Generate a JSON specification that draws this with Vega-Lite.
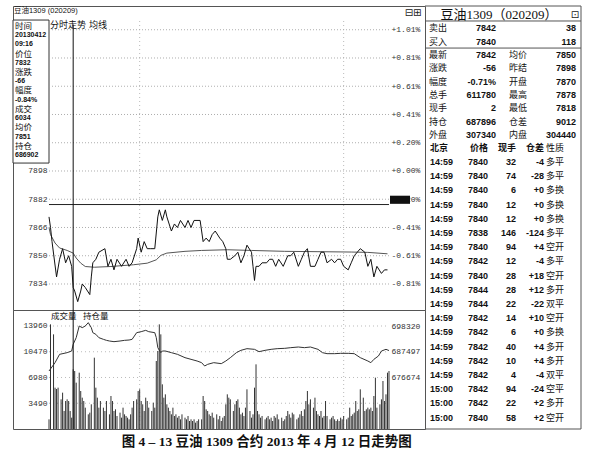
{
"$schema": "https://vega.github.io/schema/vega-lite/v6.json",
"padding": {"left": 12, "top": 5, "right": 0, "bottom": 0},
"background": "white",
"config": {"view": {"stroke": "#555", "strokeWidth": 1}, "text": {"color": "#111"}},
"title": {"text": "图 4 – 13    豆油 1309 合约 2013 年 4 月 12 日走势图", "orient": "bottom", "anchor": "middle", "dx": -30, "offset": 5, "font": "Liberation Serif, Noto Sans CJK SC", "fontSize": 13.5, "fontWeight": "bold", "color": "#111"},
"datasets": {
"plevels": [{"v":7978},{"v":7962},{"v":7946},{"v":7930},{"v":7914},{"v":7898},{"v":7882},{"v":7866},{"v":7850},{"v":7834}],
"vlevels": [{"v":3490},{"v":6980},{"v":10470},{"v":13960}],
"vgrid": [{"m":60},{"m":195}],
"price": [{"m":0,"p":7872},{"m":1,"p":7866},{"m":2,"p":7858},{"m":5,"p":7838},{"m":7,"p":7848},{"m":9,"p":7854},{"m":11,"p":7846},{"m":13,"p":7850},{"m":15,"p":7844},{"m":16,"p":7832},{"m":17,"p":7830},{"m":19,"p":7824},{"m":21,"p":7830},{"m":22,"p":7834},{"m":24,"p":7832},{"m":27,"p":7828},{"m":28,"p":7838},{"m":29,"p":7846},{"m":31,"p":7848},{"m":33,"p":7852},{"m":37,"p":7854},{"m":39,"p":7844},{"m":41,"p":7848},{"m":43,"p":7842},{"m":45,"p":7848},{"m":48,"p":7844},{"m":51,"p":7848},{"m":53,"p":7844},{"m":55,"p":7846},{"m":58,"p":7854},{"m":59,"p":7860},{"m":61,"p":7852},{"m":63,"p":7858},{"m":65,"p":7854},{"m":67,"p":7854},{"m":70,"p":7854},{"m":72,"p":7872},{"m":73,"p":7876},{"m":75,"p":7870},{"m":77,"p":7876},{"m":78,"p":7872},{"m":81,"p":7864},{"m":83,"p":7868},{"m":85,"p":7866},{"m":87,"p":7870},{"m":90,"p":7866},{"m":92,"p":7870},{"m":94,"p":7866},{"m":96,"p":7870},{"m":100,"p":7870},{"m":102,"p":7858},{"m":104,"p":7860},{"m":106,"p":7858},{"m":108,"p":7862},{"m":110,"p":7864},{"m":113,"p":7860},{"m":115,"p":7858},{"m":117,"p":7854},{"m":118,"p":7848},{"m":120,"p":7848},{"m":123,"p":7850},{"m":125,"p":7852},{"m":127,"p":7846},{"m":129,"p":7850},{"m":131,"p":7856},{"m":134,"p":7852},{"m":135,"p":7844},{"m":136,"p":7836},{"m":137,"p":7844},{"m":139,"p":7844},{"m":141,"p":7846},{"m":144,"p":7846},{"m":146,"p":7848},{"m":148,"p":7848},{"m":150,"p":7844},{"m":152,"p":7848},{"m":155,"p":7844},{"m":158,"p":7850},{"m":160,"p":7850},{"m":162,"p":7852},{"m":165,"p":7844},{"m":167,"p":7848},{"m":169,"p":7852},{"m":171,"p":7854},{"m":173,"p":7844},{"m":176,"p":7844},{"m":178,"p":7848},{"m":180,"p":7852},{"m":182,"p":7852},{"m":184,"p":7846},{"m":187,"p":7848},{"m":189,"p":7846},{"m":191,"p":7848},{"m":193,"p":7848},{"m":195,"p":7844},{"m":198,"p":7842},{"m":200,"p":7846},{"m":202,"p":7850},{"m":204,"p":7852},{"m":206,"p":7854},{"m":209,"p":7852},{"m":211,"p":7844},{"m":213,"p":7848},{"m":215,"p":7838},{"m":217,"p":7844},{"m":220,"p":7840},{"m":222,"p":7842},{"m":224,"p":7842}],
"avg": [{"m":0,"a":7866},{"m":1,"a":7862},{"m":4,"a":7857.2},{"m":7,"a":7854.4},{"m":12,"a":7853},{"m":16,"a":7851.5},{"m":18,"a":7848.7},{"m":21,"a":7845.8},{"m":24,"a":7843.9},{"m":30,"a":7843.5},{"m":41,"a":7843.9},{"m":56,"a":7844.9},{"m":65,"a":7845.8},{"m":71,"a":7847.7},{"m":74,"a":7850.2},{"m":78,"a":7851.5},{"m":90,"a":7852.5},{"m":101,"a":7853},{"m":118,"a":7853.4},{"m":134,"a":7853},{"m":156,"a":7852.5},{"m":178,"a":7852.3},{"m":200,"a":7852.1},{"m":211,"a":7851.9},{"m":224,"a":7851.1}],
"vol": [{"m":0,"v":1310},{"m":1,"v":14184},{"m":3,"v":12828},{"m":4,"v":5602},{"m":5,"v":5420},{"m":6,"v":5602},{"m":8,"v":4020},{"m":9,"v":4924},{"m":10,"v":2440},{"m":11,"v":3794},{"m":12,"v":4020},{"m":13,"v":3794},{"m":14,"v":2440},{"m":15,"v":1536},{"m":16,"v":8086},{"m":17,"v":7860},{"m":18,"v":6280},{"m":20,"v":7634},{"m":21,"v":5150},{"m":22,"v":4246},{"m":23,"v":3794},{"m":24,"v":2892},{"m":26,"v":1988},{"m":27,"v":2214},{"m":28,"v":3344},{"m":30,"v":9666},{"m":31,"v":5602},{"m":32,"v":4246},{"m":33,"v":2892},{"m":34,"v":3794},{"m":36,"v":2892},{"m":37,"v":2440},{"m":38,"v":3794},{"m":40,"v":1988},{"m":41,"v":4472},{"m":42,"v":3794},{"m":43,"v":2440},{"m":44,"v":2666},{"m":45,"v":1762},{"m":47,"v":2214},{"m":48,"v":1536},{"m":49,"v":2892},{"m":50,"v":1988},{"m":51,"v":1762},{"m":52,"v":1536},{"m":53,"v":1310},{"m":54,"v":1988},{"m":55,"v":2892},{"m":56,"v":3794},{"m":58,"v":4020},{"m":59,"v":5150},{"m":60,"v":5376},{"m":61,"v":3794},{"m":62,"v":3344},{"m":63,"v":2440},{"m":64,"v":4246},{"m":65,"v":3794},{"m":66,"v":2892},{"m":68,"v":2440},{"m":69,"v":3568},{"m":70,"v":2892},{"m":71,"v":9216},{"m":72,"v":10570},{"m":73,"v":14184},{"m":74,"v":12828},{"m":75,"v":6054},{"m":76,"v":4246},{"m":77,"v":4698},{"m":78,"v":3344},{"m":79,"v":2892},{"m":80,"v":2440},{"m":81,"v":1988},{"m":82,"v":2892},{"m":83,"v":1762},{"m":84,"v":1988},{"m":85,"v":1536},{"m":86,"v":1762},{"m":87,"v":1310},{"m":88,"v":1988},{"m":90,"v":1536},{"m":91,"v":1310},{"m":92,"v":1762},{"m":93,"v":1084},{"m":94,"v":1310},{"m":95,"v":1084},{"m":96,"v":1310},{"m":97,"v":858},{"m":98,"v":1084},{"m":99,"v":1310},{"m":101,"v":1310},{"m":102,"v":4472},{"m":103,"v":3794},{"m":104,"v":2666},{"m":105,"v":2440},{"m":106,"v":1988},{"m":107,"v":1762},{"m":108,"v":2214},{"m":109,"v":1536},{"m":111,"v":1988},{"m":112,"v":1310},{"m":113,"v":1762},{"m":114,"v":1084},{"m":115,"v":1536},{"m":116,"v":1762},{"m":117,"v":3344},{"m":118,"v":4698},{"m":119,"v":4246},{"m":120,"v":4020},{"m":122,"v":2440},{"m":123,"v":3344},{"m":124,"v":3794},{"m":125,"v":4020},{"m":126,"v":2892},{"m":127,"v":1988},{"m":128,"v":2214},{"m":129,"v":1762},{"m":130,"v":2892},{"m":131,"v":5376},{"m":133,"v":2440},{"m":134,"v":1536},{"m":135,"v":1988},{"m":136,"v":5602},{"m":137,"v":8764},{"m":138,"v":2440},{"m":139,"v":1988},{"m":140,"v":1536},{"m":141,"v":1762},{"m":143,"v":1310},{"m":144,"v":1536},{"m":145,"v":1762},{"m":146,"v":1310},{"m":147,"v":1536},{"m":148,"v":1084},{"m":149,"v":1762},{"m":150,"v":1536},{"m":151,"v":1988},{"m":152,"v":1310},{"m":154,"v":1536},{"m":155,"v":1084},{"m":156,"v":1310},{"m":157,"v":1762},{"m":158,"v":2440},{"m":159,"v":1988},{"m":160,"v":1536},{"m":161,"v":2214},{"m":162,"v":1988},{"m":164,"v":1310},{"m":165,"v":1536},{"m":166,"v":1988},{"m":167,"v":2440},{"m":168,"v":1762},{"m":169,"v":2666},{"m":170,"v":3794},{"m":171,"v":5150},{"m":172,"v":3344},{"m":173,"v":4020},{"m":175,"v":2892},{"m":176,"v":4246},{"m":177,"v":2440},{"m":178,"v":1988},{"m":179,"v":1762},{"m":180,"v":2440},{"m":181,"v":1536},{"m":182,"v":1762},{"m":183,"v":3794},{"m":184,"v":1762},{"m":186,"v":1310},{"m":187,"v":1536},{"m":188,"v":1762},{"m":189,"v":1310},{"m":190,"v":1084},{"m":191,"v":1310},{"m":192,"v":1084},{"m":193,"v":1536},{"m":194,"v":1310},{"m":195,"v":1762},{"m":197,"v":1310},{"m":198,"v":1536},{"m":199,"v":2892},{"m":200,"v":1762},{"m":201,"v":1988},{"m":202,"v":2214},{"m":203,"v":3794},{"m":204,"v":2440},{"m":205,"v":2666},{"m":206,"v":5376},{"m":208,"v":4246},{"m":209,"v":2440},{"m":210,"v":2666},{"m":211,"v":2892},{"m":212,"v":2666},{"m":213,"v":2892},{"m":214,"v":2440},{"m":215,"v":4472},{"m":216,"v":6956},{"m":217,"v":2892},{"m":219,"v":3344},{"m":220,"v":4020},{"m":221,"v":6504},{"m":222,"v":3794},{"m":223,"v":4698},{"m":224,"v":7634},{"m":225,"v":7860}],
"oi": [{"m":0,"o":679220},{"m":4,"o":682757},{"m":7,"o":686294},{"m":12,"o":687001},{"m":15,"o":687709},{"m":16,"o":690538},{"m":18,"o":693367},{"m":20,"o":698319},{"m":22,"o":697612},{"m":24,"o":698319},{"m":26,"o":699734},{"m":28,"o":697612},{"m":29,"o":695490},{"m":31,"o":694782},{"m":33,"o":693367},{"m":36,"o":692660},{"m":38,"o":692236},{"m":40,"o":691953},{"m":43,"o":691670},{"m":47,"o":691953},{"m":50,"o":692236},{"m":53,"o":692377},{"m":55,"o":692660},{"m":58,"o":695490},{"m":61,"o":695914},{"m":64,"o":696480},{"m":66,"o":695914},{"m":70,"o":695490},{"m":71,"o":693367},{"m":72,"o":689123},{"m":74,"o":687001},{"m":75,"o":687709},{"m":77,"o":687709},{"m":81,"o":687001},{"m":85,"o":686294},{"m":90,"o":684879},{"m":94,"o":684172},{"m":98,"o":683465},{"m":101,"o":682757},{"m":103,"o":681343},{"m":105,"o":682050},{"m":109,"o":682757},{"m":114,"o":682333},{"m":117,"o":683465},{"m":120,"o":684879},{"m":124,"o":687001},{"m":127,"o":687992},{"m":131,"o":688699},{"m":136,"o":688416},{"m":139,"o":687426},{"m":143,"o":687992},{"m":147,"o":688416},{"m":151,"o":688699},{"m":156,"o":688840},{"m":160,"o":689123},{"m":165,"o":689406},{"m":169,"o":689123},{"m":173,"o":689406},{"m":178,"o":688416},{"m":181,"o":687001},{"m":184,"o":686577},{"m":189,"o":686577},{"m":193,"o":686718},{"m":198,"o":686718},{"m":202,"o":686577},{"m":206,"o":684879},{"m":211,"o":683465},{"m":213,"o":682757},{"m":215,"o":684172},{"m":218,"o":685587},{"m":220,"o":687709},{"m":223,"o":688416},{"m":225,"o":687896}],
"info": [{"k":0,"t":"时间","kind":"l"},{"k":1,"t":"20130412","kind":"v"},{"k":2,"t":"09:16","kind":"v"},{"k":3,"t":"价位","kind":"l"},{"k":4,"t":"7832","kind":"v"},{"k":5,"t":"涨跌","kind":"l"},{"k":6,"t":"-66","kind":"v"},{"k":7,"t":"幅度","kind":"l"},{"k":8,"t":"-0.84%","kind":"v"},{"k":9,"t":"成交","kind":"l"},{"k":10,"t":"6034","kind":"v"},{"k":11,"t":"均价","kind":"l"},{"k":12,"t":"7851","kind":"v"},{"k":13,"t":"持仓","kind":"l"},{"k":14,"t":"686902","kind":"v"}],
"quote": [{"i":1,"a":"卖出","b":"7842","c":"","d":"38"},{"i":2,"a":"买入","b":"7840","c":"","d":"118"},{"i":3,"a":"最新","b":"7842","c":"均价","d":"7850"},{"i":4,"a":"涨跌","b":"-56","c":"昨结","d":"7898"},{"i":5,"a":"幅度","b":"-0.71%","c":"开盘","d":"7870"},{"i":6,"a":"总手","b":"611780","c":"最高","d":"7878"},{"i":7,"a":"现手","b":"2","c":"最低","d":"7818"},{"i":8,"a":"持仓","b":"687896","c":"仓差","d":"9012"},{"i":9,"a":"外盘","b":"307340","c":"内盘","d":"304440"}],
"ticks": [{"j":0,"t":"北京","p":"价格","v":"现手","o":"仓差","n":"性质"},{"j":1,"t":"14:59","p":"7840","v":"32","o":"-4","n":"多平"},{"j":2,"t":"14:59","p":"7840","v":"74","o":"-28","n":"多平"},{"j":3,"t":"14:59","p":"7840","v":"6","o":"+0","n":"多换"},{"j":4,"t":"14:59","p":"7840","v":"12","o":"+0","n":"多换"},{"j":5,"t":"14:59","p":"7840","v":"12","o":"+0","n":"多换"},{"j":6,"t":"14:59","p":"7838","v":"146","o":"-124","n":"多平"},{"j":7,"t":"14:59","p":"7840","v":"94","o":"+4","n":"空开"},{"j":8,"t":"14:59","p":"7842","v":"12","o":"-4","n":"多平"},{"j":9,"t":"14:59","p":"7840","v":"28","o":"+18","n":"空开"},{"j":10,"t":"14:59","p":"7844","v":"28","o":"+12","n":"多开"},{"j":11,"t":"14:59","p":"7844","v":"22","o":"-22","n":"双平"},{"j":12,"t":"14:59","p":"7842","v":"14","o":"+10","n":"空开"},{"j":13,"t":"14:59","p":"7842","v":"6","o":"+0","n":"多换"},{"j":14,"t":"14:59","p":"7842","v":"40","o":"+4","n":"多开"},{"j":15,"t":"14:59","p":"7842","v":"10","o":"+4","n":"多开"},{"j":16,"t":"14:59","p":"7842","v":"4","o":"-4","n":"双平"},{"j":17,"t":"15:00","p":"7842","v":"94","o":"-24","n":"空平"},{"j":18,"t":"15:00","p":"7842","v":"22","o":"+2","n":"多开"},{"j":19,"t":"15:00","p":"7840","v":"58","o":"+2","n":"空开"}]
},
"columns": 2,
"spacing": 0,
"bounds": "flush",
"concat": [
{
"width": 412, "height": 304,
"resolve": {"scale": {"y": "independent"}},
"layer": [
{"data": {"values": [{}]}, "mark": {"type": "rect", "fill": "white", "stroke": "#333", "strokeWidth": 1},
 "encoding": {"x": {"datum": -23.824, "type": "quantitative", "scale": {"domain": [-23.824, 248.824], "nice": false, "zero": false}, "axis": null}, "x2": {"datum": 0},
 "y": {"datum": 7983.5, "type": "quantitative", "scale": {"domain": [7819.27, 7991.45], "nice": false, "zero": false}, "axis": null}, "y2": {"datum": 7902.5}}},
{"data": {"name": "plevels"}, "mark": {"type": "rule", "stroke": "#999", "strokeWidth": 0.8, "strokeDash": [1, 2]},
 "encoding": {"x": {"datum": 0, "type": "quantitative", "scale": {"domain": [-23.824, 248.824], "nice": false, "zero": false}, "axis": null}, "x2": {"datum": 225},
 "y": {"field": "v", "type": "quantitative", "scale": {"domain": [7819.27, 7991.45], "nice": false, "zero": false},
  "axis": {"orient": "left", "offset": -36, "values": [7898, 7882, 7866, 7850, 7834], "format": "d", "domain": false, "ticks": false, "grid": false, "title": null, "labelFont": "Liberation Mono", "labelFontSize": 8, "labelColor": "#333", "labelPadding": 2}}}},
{"data": {"name": "plevels"}, "mark": {"type": "rule", "opacity": 0},
 "encoding": {"x": {"datum": 0, "type": "quantitative", "scale": {"domain": [-23.824, 248.824], "nice": false, "zero": false}, "axis": null}, "x2": {"datum": 225},
 "y": {"field": "v", "type": "quantitative", "scale": {"domain": [7819.27, 7991.45], "nice": false, "zero": false},
  "axis": {"orient": "right", "offset": -36, "values": [7978, 7962, 7946, 7930, 7914, 7898, 7882, 7866, 7850, 7834], "labelExpr": "(datum.value >= 7898 ? '+' : '-') + format(abs(datum.value - 7898) / 7898 * 100, '.2f') + '%'", "domain": false, "ticks": false, "grid": false, "title": null, "labelFont": "Liberation Mono", "labelFontSize": 8, "labelColor": "#333", "labelPadding": 2}}}},
{"data": {"name": "vgrid"}, "mark": {"type": "rule", "stroke": "#aaa", "strokeWidth": 0.8, "strokeDash": [1, 3]},
 "encoding": {"x": {"field": "m", "type": "quantitative", "scale": {"domain": [-23.824, 248.824], "nice": false, "zero": false}, "axis": null},
 "y": {"datum": 7819.27, "type": "quantitative", "scale": {"domain": [7819.27, 7991.45], "nice": false, "zero": false}, "axis": null}, "y2": {"datum": 7984}}},
{"data": {"name": "avg"}, "mark": {"type": "line", "stroke": "#555", "strokeWidth": 1},
 "encoding": {"x": {"field": "m", "type": "quantitative", "scale": {"domain": [-23.824, 248.824], "nice": false, "zero": false}, "axis": null},
 "y": {"field": "a", "type": "quantitative", "scale": {"domain": [7819.27, 7991.45], "nice": false, "zero": false}, "axis": null}}},
{"data": {"name": "price"}, "mark": {"type": "line", "stroke": "#111", "strokeWidth": 1},
 "encoding": {"x": {"field": "m", "type": "quantitative", "scale": {"domain": [-23.824, 248.824], "nice": false, "zero": false}, "axis": null},
 "y": {"field": "p", "type": "quantitative", "scale": {"domain": [7819.27, 7991.45], "nice": false, "zero": false}, "axis": null}}},
{"data": {"values": [{}]}, "mark": {"type": "rule", "stroke": "#222", "strokeWidth": 1},
 "encoding": {"x": {"datum": 0, "type": "quantitative", "scale": {"domain": [-23.824, 248.824], "nice": false, "zero": false}, "axis": null}, "x2": {"datum": 225},
 "y": {"datum": 7879, "type": "quantitative", "scale": {"domain": [7819.27, 7991.45], "nice": false, "zero": false}, "axis": null}}},
{"data": {"values": [{}]}, "mark": {"type": "rule", "stroke": "#111", "strokeWidth": 1},
 "encoding": {"x": {"datum": 16, "type": "quantitative", "scale": {"domain": [-23.824, 248.824], "nice": false, "zero": false}, "axis": null},
 "y": {"datum": 7819.27, "type": "quantitative", "scale": {"domain": [7819.27, 7991.45], "nice": false, "zero": false}, "axis": null}, "y2": {"datum": 7981}}},
{"data": {"values": [{}]}, "mark": {"type": "rect", "fill": "#111"},
 "encoding": {"x": {"datum": 225.66, "type": "quantitative", "scale": {"domain": [-23.824, 248.824], "nice": false, "zero": false}, "axis": null}, "x2": {"datum": 238.9},
 "y": {"datum": 7879.4, "type": "quantitative", "scale": {"domain": [7819.27, 7991.45], "nice": false, "zero": false}, "axis": null}, "y2": {"datum": 7884}}},
{"data": {"values": [{}]}, "mark": {"type": "text", "text": "分时走势", "align": "left", "baseline": "middle", "font": "Noto Sans CJK SC", "fontSize": 9, "color": "#111"},
 "encoding": {"x": {"datum": 0.66, "type": "quantitative", "scale": {"domain": [-23.824, 248.824], "nice": false, "zero": false}, "axis": null},
 "y": {"datum": 7980.7, "type": "quantitative", "scale": {"domain": [7819.27, 7991.45], "nice": false, "zero": false}, "axis": null}}},
{"data": {"values": [{}]}, "mark": {"type": "text", "text": "均线", "align": "left", "baseline": "middle", "font": "Noto Sans CJK SC", "fontSize": 9, "color": "#111"},
 "encoding": {"x": {"datum": 26.5, "type": "quantitative", "scale": {"domain": [-23.824, 248.824], "nice": false, "zero": false}, "axis": null},
 "y": {"datum": 7980.7, "type": "quantitative", "scale": {"domain": [7819.27, 7991.45], "nice": false, "zero": false}, "axis": null}}},
{"data": {"values": [{}]}, "mark": {"type": "text", "text": "豆油1309 (020209)", "align": "left", "baseline": "middle", "font": "Liberation Sans, Noto Sans CJK SC", "fontSize": 7.5, "color": "#111"},
 "encoding": {"x": {"datum": -23.2, "type": "quantitative", "scale": {"domain": [-23.824, 248.824], "nice": false, "zero": false}, "axis": null},
 "y": {"datum": 7988.6, "type": "quantitative", "scale": {"domain": [7819.27, 7991.45], "nice": false, "zero": false}, "axis": null}}},
{"data": {"values": [{}]}, "mark": {"type": "text", "text": "⊟⊞", "align": "center", "baseline": "middle", "font": "DejaVu Sans", "fontSize": 10, "color": "#222"},
 "encoding": {"x": {"datum": 240.9, "type": "quantitative", "scale": {"domain": [-23.824, 248.824], "nice": false, "zero": false}, "axis": null},
 "y": {"datum": 7987.5, "type": "quantitative", "scale": {"domain": [7819.27, 7991.45], "nice": false, "zero": false}, "axis": null}}},
{"data": {"name": "info"}, "transform": [{"filter": "datum.kind == 'l'"}], "mark": {"type": "text", "align": "left", "baseline": "middle", "font": "Noto Sans CJK SC", "fontSize": 8.5, "color": "#111"},
 "encoding": {"x": {"datum": -22.5, "type": "quantitative", "scale": {"domain": [-23.824, 248.824], "nice": false, "zero": false}, "axis": null},
 "y": {"field": "k", "type": "quantitative", "scale": {"domain": [-2.1706, 30.823], "nice": false, "zero": false, "reverse": true}, "axis": null}, "text": {"field": "t"}}},
{"data": {"name": "info"}, "transform": [{"filter": "datum.kind == 'v'"}], "mark": {"type": "text", "align": "left", "baseline": "middle", "font": "Liberation Sans", "fontSize": 7, "fontWeight": "bold", "color": "#111"},
 "encoding": {"x": {"datum": -22.5, "type": "quantitative", "scale": {"domain": [-23.824, 248.824], "nice": false, "zero": false}, "axis": null},
 "y": {"field": "k", "type": "quantitative", "scale": {"domain": [-2.1706, 30.823], "nice": false, "zero": false, "reverse": true}, "axis": null}, "text": {"field": "t"}}}
]
},
{
"width": 156, "height": 304,
"view": {"stroke": null},
"resolve": {"scale": {"y": "independent"}},
"layer": [
{"data": {"values": [{}]}, "mark": {"type": "rule", "stroke": "#555", "strokeWidth": 1},
 "encoding": {"x": {"datum": 0, "type": "quantitative", "scale": {"domain": [0, 156], "nice": false, "zero": false}, "axis": null}, "x2": {"datum": 156},
 "y": {"datum": -0.675, "type": "quantitative", "scale": {"domain": [-0.675, 22.13], "nice": false, "zero": false, "reverse": true}, "axis": null}}},
{"data": {"values": [{}]}, "mark": {"type": "rule", "stroke": "#555", "strokeWidth": 1},
 "encoding": {"x": {"datum": 156, "type": "quantitative", "scale": {"domain": [0, 156], "nice": false, "zero": false}, "axis": null},
 "y": {"datum": -0.675, "type": "quantitative", "scale": {"domain": [-0.675, 22.13], "nice": false, "zero": false, "reverse": true}, "axis": null}, "y2": {"datum": 22.13}}},
{"data": {"values": [{}]}, "mark": {"type": "rule", "stroke": "#555", "strokeWidth": 1},
 "encoding": {"x": {"datum": 0, "type": "quantitative", "scale": {"domain": [0, 156], "nice": false, "zero": false}, "axis": null}, "x2": {"datum": 156},
 "y": {"datum": 0.45, "type": "quantitative", "scale": {"domain": [-0.675, 22.13], "nice": false, "zero": false, "reverse": true}, "axis": null}}},
{"data": {"values": [{}]}, "mark": {"type": "rule", "stroke": "#555", "strokeWidth": 1},
 "encoding": {"x": {"datum": 0, "type": "quantitative", "scale": {"domain": [0, 156], "nice": false, "zero": false}, "axis": null}, "x2": {"datum": 156},
 "y": {"datum": 2.48, "type": "quantitative", "scale": {"domain": [-0.675, 22.13], "nice": false, "zero": false, "reverse": true}, "axis": null}}},
{"data": {"values": [{}]}, "mark": {"type": "text", "text": "豆油1309（020209）", "align": "center", "baseline": "middle", "font": "Liberation Serif, Noto Sans CJK SC", "fontSize": 13, "color": "#111"},
 "encoding": {"x": {"datum": 74, "type": "quantitative", "scale": {"domain": [0, 156], "nice": false, "zero": false}, "axis": null},
 "y": {"datum": 0, "type": "quantitative", "scale": {"domain": [-0.675, 22.13], "nice": false, "zero": false, "reverse": true}, "axis": null}}},
{"data": {"values": [{}]}, "mark": {"type": "text", "text": "⊡", "align": "center", "baseline": "middle", "font": "DejaVu Sans", "fontSize": 10, "color": "#222"},
 "encoding": {"x": {"datum": 150, "type": "quantitative", "scale": {"domain": [0, 156], "nice": false, "zero": false}, "axis": null},
 "y": {"datum": 0, "type": "quantitative", "scale": {"domain": [-0.675, 22.13], "nice": false, "zero": false, "reverse": true}, "axis": null}}},
{"data": {"name": "quote"}, "mark": {"type": "text", "align": "left", "baseline": "middle", "font": "Noto Sans CJK SC", "fontSize": 9, "color": "#111"},
 "encoding": {"x": {"datum": 4, "type": "quantitative", "scale": {"domain": [0, 156], "nice": false, "zero": false}, "axis": null},
 "y": {"field": "i", "type": "quantitative", "scale": {"domain": [-0.675, 22.13], "nice": false, "zero": false, "reverse": true}, "axis": null}, "text": {"field": "a"}}},
{"data": {"name": "quote"}, "mark": {"type": "text", "align": "right", "baseline": "middle", "font": "Liberation Sans", "fontSize": 9, "fontWeight": "bold", "color": "#111"},
 "encoding": {"x": {"datum": 71, "type": "quantitative", "scale": {"domain": [0, 156], "nice": false, "zero": false}, "axis": null},
 "y": {"field": "i", "type": "quantitative", "scale": {"domain": [-0.675, 22.13], "nice": false, "zero": false, "reverse": true}, "axis": null}, "text": {"field": "b"}}},
{"data": {"name": "quote"}, "mark": {"type": "text", "align": "left", "baseline": "middle", "font": "Noto Sans CJK SC", "fontSize": 9, "color": "#111"},
 "encoding": {"x": {"datum": 84, "type": "quantitative", "scale": {"domain": [0, 156], "nice": false, "zero": false}, "axis": null},
 "y": {"field": "i", "type": "quantitative", "scale": {"domain": [-0.675, 22.13], "nice": false, "zero": false, "reverse": true}, "axis": null}, "text": {"field": "c"}}},
{"data": {"name": "quote"}, "mark": {"type": "text", "align": "right", "baseline": "middle", "font": "Liberation Sans", "fontSize": 9, "fontWeight": "bold", "color": "#111"},
 "encoding": {"x": {"datum": 151, "type": "quantitative", "scale": {"domain": [0, 156], "nice": false, "zero": false}, "axis": null},
 "y": {"field": "i", "type": "quantitative", "scale": {"domain": [-0.675, 22.13], "nice": false, "zero": false, "reverse": true}, "axis": null}, "text": {"field": "d"}}},
{"data": {"name": "ticks"}, "transform": [{"filter": "datum.j <= 11"}], "mark": {"type": "text", "align": "left", "baseline": "middle", "font": "Liberation Sans, Noto Sans CJK SC", "fontSize": 9, "fontWeight": "bold", "color": "#111"},
 "encoding": {"x": {"datum": 5, "type": "quantitative", "scale": {"domain": [0, 156], "nice": false, "zero": false}, "axis": null},
 "y": {"field": "j", "type": "quantitative", "scale": {"domain": [-9.986, 11.423], "nice": false, "zero": false, "reverse": true}, "axis": null}, "text": {"field": "t"}}},
{"data": {"name": "ticks"}, "transform": [{"filter": "datum.j <= 11"}], "mark": {"type": "text", "align": "right", "baseline": "middle", "font": "Liberation Sans, Noto Sans CJK SC", "fontSize": 9, "fontWeight": "bold", "color": "#111"},
 "encoding": {"x": {"datum": 63, "type": "quantitative", "scale": {"domain": [0, 156], "nice": false, "zero": false}, "axis": null},
 "y": {"field": "j", "type": "quantitative", "scale": {"domain": [-9.986, 11.423], "nice": false, "zero": false, "reverse": true}, "axis": null}, "text": {"field": "p"}}},
{"data": {"name": "ticks"}, "transform": [{"filter": "datum.j <= 11"}], "mark": {"type": "text", "align": "right", "baseline": "middle", "font": "Liberation Sans, Noto Sans CJK SC", "fontSize": 9, "fontWeight": "bold", "color": "#111"},
 "encoding": {"x": {"datum": 91, "type": "quantitative", "scale": {"domain": [0, 156], "nice": false, "zero": false}, "axis": null},
 "y": {"field": "j", "type": "quantitative", "scale": {"domain": [-9.986, 11.423], "nice": false, "zero": false, "reverse": true}, "axis": null}, "text": {"field": "v"}}},
{"data": {"name": "ticks"}, "transform": [{"filter": "datum.j <= 11"}], "mark": {"type": "text", "align": "right", "baseline": "middle", "font": "Liberation Sans, Noto Sans CJK SC", "fontSize": 9, "fontWeight": "bold", "color": "#111"},
 "encoding": {"x": {"datum": 119, "type": "quantitative", "scale": {"domain": [0, 156], "nice": false, "zero": false}, "axis": null},
 "y": {"field": "j", "type": "quantitative", "scale": {"domain": [-9.986, 11.423], "nice": false, "zero": false, "reverse": true}, "axis": null}, "text": {"field": "o"}}},
{"data": {"name": "ticks"}, "transform": [{"filter": "datum.j <= 11"}], "mark": {"type": "text", "align": "left", "baseline": "middle", "font": "Noto Sans CJK SC", "fontSize": 9, "color": "#111"},
 "encoding": {"x": {"datum": 121, "type": "quantitative", "scale": {"domain": [0, 156], "nice": false, "zero": false}, "axis": null},
 "y": {"field": "j", "type": "quantitative", "scale": {"domain": [-9.986, 11.423], "nice": false, "zero": false, "reverse": true}, "axis": null}, "text": {"field": "n"}}}
]
},
{
"width": 412, "height": 119,
"resolve": {"scale": {"y": "independent"}},
"layer": [
{"data": {"name": "vlevels"}, "mark": {"type": "rule", "stroke": "#aaa", "strokeWidth": 0.8, "strokeDash": [1, 3]},
 "encoding": {"x": {"datum": 0, "type": "quantitative", "scale": {"domain": [-23.824, 248.824], "nice": false, "zero": false}, "axis": null}, "x2": {"datum": 225},
 "y": {"field": "v", "type": "quantitative", "scale": {"domain": [0, 16128], "nice": false, "zero": false},
  "axis": {"orient": "left", "offset": -36, "values": [3490, 6980, 10470, 13960], "format": "d", "domain": false, "ticks": false, "grid": false, "title": null, "labelFont": "Liberation Mono", "labelFontSize": 8, "labelColor": "#333", "labelPadding": 2}}}},
{"data": {"name": "vgrid"}, "mark": {"type": "rule", "stroke": "#aaa", "strokeWidth": 0.8, "strokeDash": [1, 3]},
 "encoding": {"x": {"field": "m", "type": "quantitative", "scale": {"domain": [-23.824, 248.824], "nice": false, "zero": false}, "axis": null},
 "y": {"datum": 0, "type": "quantitative", "scale": {"domain": [0, 16128], "nice": false, "zero": false}, "axis": null}, "y2": {"datum": 16128}}},
{"data": {"name": "vol"}, "mark": {"type": "rule", "stroke": "#333", "strokeWidth": 1},
 "encoding": {"x": {"field": "m", "type": "quantitative", "scale": {"domain": [-23.824, 248.824], "nice": false, "zero": false}, "axis": null},
 "y": {"field": "v", "type": "quantitative", "scale": {"domain": [0, 16128], "nice": false, "zero": false}, "axis": null}, "y2": {"datum": 0}}},
{"data": {"name": "oi"}, "mark": {"type": "line", "stroke": "#333", "strokeWidth": 1},
 "encoding": {"x": {"field": "m", "type": "quantitative", "scale": {"domain": [-23.824, 248.824], "nice": false, "zero": false}, "axis": null},
 "y": {"field": "o", "type": "quantitative", "scale": {"domain": [654604, 705111], "nice": false, "zero": false},
  "axis": {"orient": "right", "offset": -36, "values": [676674, 687497, 698320], "format": "d", "domain": false, "ticks": false, "grid": false, "title": null, "labelFont": "Liberation Mono", "labelFontSize": 8, "labelColor": "#333", "labelPadding": 2}}}},
{"data": {"values": [{}]}, "mark": {"type": "rule", "stroke": "#111", "strokeWidth": 1},
 "encoding": {"x": {"datum": 16, "type": "quantitative", "scale": {"domain": [-23.824, 248.824], "nice": false, "zero": false}, "axis": null},
 "y": {"datum": 0, "type": "quantitative", "scale": {"domain": [0, 16128], "nice": false, "zero": false}, "axis": null}, "y2": {"datum": 16128}}},
{"data": {"values": [{}]}, "mark": {"type": "text", "text": "成交量", "align": "left", "baseline": "middle", "font": "Noto Sans CJK SC", "fontSize": 8.5, "color": "#111"},
 "encoding": {"x": {"datum": 1.3, "type": "quantitative", "scale": {"domain": [-23.824, 248.824], "nice": false, "zero": false}, "axis": null},
 "y": {"datum": 15316, "type": "quantitative", "scale": {"domain": [0, 16128], "nice": false, "zero": false}, "axis": null}}},
{"data": {"values": [{}]}, "mark": {"type": "text", "text": "持仓量", "align": "left", "baseline": "middle", "font": "Noto Sans CJK SC", "fontSize": 8.5, "color": "#111"},
 "encoding": {"x": {"datum": 22.5, "type": "quantitative", "scale": {"domain": [-23.824, 248.824], "nice": false, "zero": false}, "axis": null},
 "y": {"datum": 15316, "type": "quantitative", "scale": {"domain": [0, 16128], "nice": false, "zero": false}, "axis": null}}}
]
},
{
"width": 156, "height": 119,
"view": {"stroke": null},
"resolve": {"scale": {"y": "independent"}},
"layer": [
{"data": {"values": [{}]}, "mark": {"type": "rule", "stroke": "#555", "strokeWidth": 1},
 "encoding": {"x": {"datum": 156, "type": "quantitative", "scale": {"domain": [0, 156], "nice": false, "zero": false}, "axis": null},
 "y": {"datum": 11.423, "type": "quantitative", "scale": {"domain": [11.423, 19.803], "nice": false, "zero": false, "reverse": true}, "axis": null}, "y2": {"datum": 19.803}}},
{"data": {"values": [{}]}, "mark": {"type": "rule", "stroke": "#555", "strokeWidth": 1},
 "encoding": {"x": {"datum": 0, "type": "quantitative", "scale": {"domain": [0, 156], "nice": false, "zero": false}, "axis": null}, "x2": {"datum": 156},
 "y": {"datum": 19.803, "type": "quantitative", "scale": {"domain": [11.423, 19.803], "nice": false, "zero": false, "reverse": true}, "axis": null}}},
{"data": {"name": "ticks"}, "transform": [{"filter": "datum.j >= 12"}], "mark": {"type": "text", "align": "left", "baseline": "middle", "font": "Liberation Sans, Noto Sans CJK SC", "fontSize": 9, "fontWeight": "bold", "color": "#111"},
 "encoding": {"x": {"datum": 5, "type": "quantitative", "scale": {"domain": [0, 156], "nice": false, "zero": false}, "axis": null},
 "y": {"field": "j", "type": "quantitative", "scale": {"domain": [11.423, 19.803], "nice": false, "zero": false, "reverse": true}, "axis": null}, "text": {"field": "t"}}},
{"data": {"name": "ticks"}, "transform": [{"filter": "datum.j >= 12"}], "mark": {"type": "text", "align": "right", "baseline": "middle", "font": "Liberation Sans, Noto Sans CJK SC", "fontSize": 9, "fontWeight": "bold", "color": "#111"},
 "encoding": {"x": {"datum": 63, "type": "quantitative", "scale": {"domain": [0, 156], "nice": false, "zero": false}, "axis": null},
 "y": {"field": "j", "type": "quantitative", "scale": {"domain": [11.423, 19.803], "nice": false, "zero": false, "reverse": true}, "axis": null}, "text": {"field": "p"}}},
{"data": {"name": "ticks"}, "transform": [{"filter": "datum.j >= 12"}], "mark": {"type": "text", "align": "right", "baseline": "middle", "font": "Liberation Sans, Noto Sans CJK SC", "fontSize": 9, "fontWeight": "bold", "color": "#111"},
 "encoding": {"x": {"datum": 91, "type": "quantitative", "scale": {"domain": [0, 156], "nice": false, "zero": false}, "axis": null},
 "y": {"field": "j", "type": "quantitative", "scale": {"domain": [11.423, 19.803], "nice": false, "zero": false, "reverse": true}, "axis": null}, "text": {"field": "v"}}},
{"data": {"name": "ticks"}, "transform": [{"filter": "datum.j >= 12"}], "mark": {"type": "text", "align": "right", "baseline": "middle", "font": "Liberation Sans, Noto Sans CJK SC", "fontSize": 9, "fontWeight": "bold", "color": "#111"},
 "encoding": {"x": {"datum": 119, "type": "quantitative", "scale": {"domain": [0, 156], "nice": false, "zero": false}, "axis": null},
 "y": {"field": "j", "type": "quantitative", "scale": {"domain": [11.423, 19.803], "nice": false, "zero": false, "reverse": true}, "axis": null}, "text": {"field": "o"}}},
{"data": {"name": "ticks"}, "transform": [{"filter": "datum.j >= 12"}], "mark": {"type": "text", "align": "left", "baseline": "middle", "font": "Noto Sans CJK SC", "fontSize": 9, "color": "#111"},
 "encoding": {"x": {"datum": 121, "type": "quantitative", "scale": {"domain": [0, 156], "nice": false, "zero": false}, "axis": null},
 "y": {"field": "j", "type": "quantitative", "scale": {"domain": [11.423, 19.803], "nice": false, "zero": false, "reverse": true}, "axis": null}, "text": {"field": "n"}}}
]
}
]
}
